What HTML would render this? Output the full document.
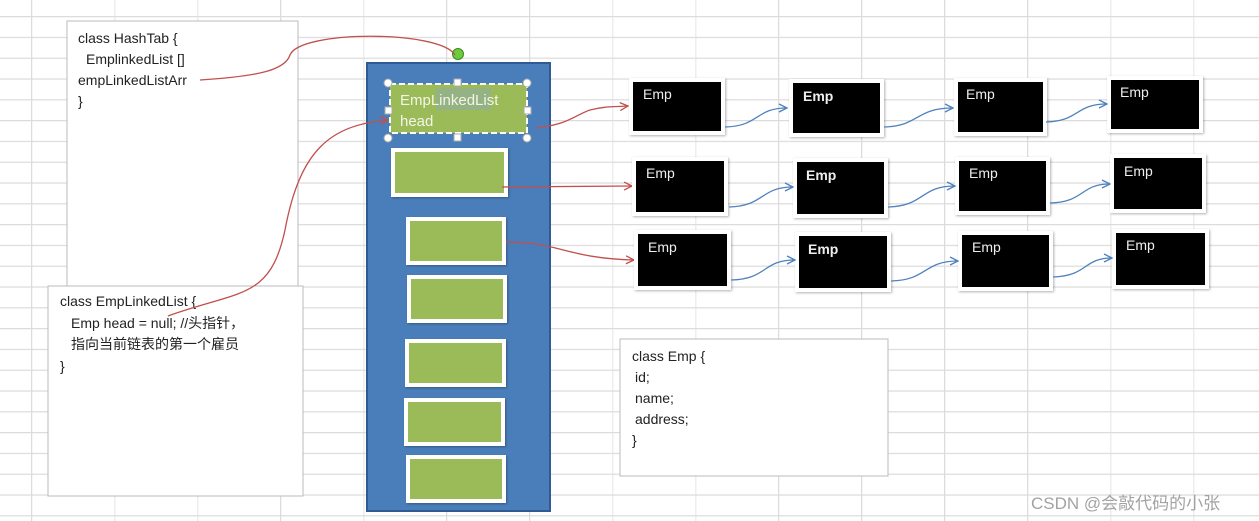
<!DOCTYPE html>
<html><head><meta charset="utf-8"><style>
html,body{margin:0;padding:0;background:#fff;}
svg{display:block;font-family:"Liberation Sans","Noto Sans CJK SC",sans-serif;}
</style></head><body>
<svg width="1259" height="521" viewBox="0 0 1259 521" xmlns="http://www.w3.org/2000/svg">
<defs>
<pattern id="g" x="31" y="16" width="83" height="20.8" patternUnits="userSpaceOnUse">
<rect width="83" height="20.8" fill="#fff"/>
<line x1="0.5" y1="0" x2="0.5" y2="20.8" stroke="#dcdcdc" stroke-width="1.5"/>
<line x1="0" y1="0.5" x2="83" y2="0.5" stroke="#dcdcdc" stroke-width="1.5"/>
</pattern>
<marker id="ar" markerWidth="10" markerHeight="10" refX="9" refY="5" orient="auto" markerUnits="userSpaceOnUse"><path d="M1,1 L9,5 L1,9" fill="none" stroke="#c0504d" stroke-width="1.3"/></marker>
<marker id="ab" markerWidth="10" markerHeight="10" refX="9" refY="5" orient="auto" markerUnits="userSpaceOnUse"><path d="M1,1 L9,5 L1,9" fill="none" stroke="#4f81bd" stroke-width="1.3"/></marker>
<filter id="sh"><feDropShadow dx="1" dy="1" stdDeviation="1.2" flood-color="#000" flood-opacity="0.3"/></filter>
</defs>
<rect width="1259" height="521" fill="url(#g)"/>

<!-- HashTab box -->
<rect x="67" y="21" width="231" height="270" fill="#fff" stroke="#bbb"/>
<g font-size="14" fill="#222">
<text x="78" y="43">class HashTab  {</text>
<text x="86" y="64">Emplinked​List []</text>
<text x="78" y="85">empLinkedListArr</text>
<text x="78" y="106">}</text>
</g>

<!-- EmpLinkedList box -->
<rect x="48" y="286" width="255" height="210" fill="#fff" stroke="#bbb"/>
<g font-size="14" fill="#222">
<text x="60" y="306">class  EmpLinkedList {</text>
<text x="71" y="328">Emp head = null; //头指针，</text>
<text x="71" y="349">指向当前链表的第一个雇员</text>
<text x="60" y="371">}</text>
</g>

<!-- Emp class box -->
<rect x="620" y="339" width="268" height="137" fill="#fff" stroke="#bbb"/>
<g font-size="14" fill="#222">
<text x="632" y="361">class Emp {</text>
<text x="635" y="382">id;</text>
<text x="635" y="403">name;</text>
<text x="635" y="424">address;</text>
<text x="632" y="445">}</text>
</g>

<!-- blue column -->
<rect x="367" y="63" width="183" height="448" fill="#4a7ebb" stroke="#2f5b93" stroke-width="2"/>
<!-- green boxes -->
<g fill="#9bbb59" stroke="#fff" stroke-width="4" filter="url(#sh)">
<rect x="393" y="150" width="113" height="45"/>
<rect x="408" y="219" width="96" height="44"/>
<rect x="409" y="277" width="96" height="44"/>
<rect x="407" y="341" width="97" height="44"/>
<rect x="406" y="400" width="97" height="44"/>
<rect x="408" y="457" width="96" height="44"/>
</g>
<!-- selected -->
<rect x="390" y="84" width="137" height="49" fill="#9bbb59" stroke="#fff" stroke-width="2" stroke-dasharray="6,3"/>
<rect x="436" y="88" width="55" height="22" fill="#8faab0" opacity="0.5"/>
<text x="400" y="105" font-size="15" fill="#f4f4e8">EmpLinkedList</text>
<text x="400" y="126" font-size="15" fill="#f4f4e8">head</text>
<g fill="#fff" stroke="#aaa">
<circle cx="388" cy="83" r="4"/><circle cx="527" cy="83" r="4"/><circle cx="388" cy="138" r="4"/><circle cx="527" cy="138" r="4"/>
<rect x="454" y="79" width="7" height="7"/><rect x="454" y="134" width="7" height="7"/><rect x="385" y="107" width="7" height="7"/><rect x="524" y="107" width="7" height="7"/>
</g>
<circle cx="458" cy="54" r="5.5" fill="#6ccb3c" stroke="#3a8a20"/>

<!-- red connectors -->
<g fill="none" stroke="#c0504d" stroke-width="1.3">
<path d="M200,80 C260,76 285,70 290,55 C300,30 440,30 455,55"/>
<path d="M168,316 C240,290 270,300 285,230 C300,150 330,125 388,120" marker-end="url(#ar)"/>
<path d="M536,128 C570,124 575,115 590,110 C605,106 615,107 628,106" marker-end="url(#ar)"/>
<path d="M502,187 L632,186" marker-end="url(#ar)"/>
<path d="M506,242 C560,242 565,258 634,260" marker-end="url(#ar)"/>
</g>

<!-- Emp boxes -->
<g fill="#000" stroke="#fff" stroke-width="4" filter="url(#sh)">
<rect x="631" y="80" width="92" height="53"/>
<rect x="791" y="81" width="91" height="54"/>
<rect x="956" y="80" width="89" height="54"/>
<rect x="1109" y="78" width="92" height="53"/>
<rect x="634" y="159" width="92" height="55"/>
<rect x="795" y="160" width="91" height="56"/>
<rect x="957" y="159" width="91" height="54"/>
<rect x="1112" y="156" width="92" height="55"/>
<rect x="636" y="232" width="93" height="56"/>
<rect x="797" y="234" width="92" height="56"/>
<rect x="960" y="233" width="91" height="56"/>
<rect x="1114" y="231" width="93" height="56"/>
</g>
<g font-size="14" fill="#eee">
<text x="643" y="99">Emp</text><text x="803" y="101" font-weight="bold">Emp</text><text x="966" y="99">Emp</text><text x="1120" y="97">Emp</text>
<text x="646" y="178">Emp</text><text x="806" y="180" font-weight="bold">Emp</text><text x="969" y="178">Emp</text><text x="1124" y="176">Emp</text>
<text x="648" y="252">Emp</text><text x="808" y="254" font-weight="bold">Emp</text><text x="972" y="252">Emp</text><text x="1126" y="250">Emp</text>
</g>

<!-- blue connectors -->
<g fill="none" stroke="#4f81bd" stroke-width="1.3">
<path d="M725,127 C760,126 755,108 787,108" marker-end="url(#ab)"/>
<path d="M884,127 C920,126 915,108 953,108" marker-end="url(#ab)"/>
<path d="M1046,122 C1080,121 1075,104 1107,104" marker-end="url(#ab)"/>
<path d="M729,207 C765,206 760,187 793,187" marker-end="url(#ab)"/>
<path d="M888,207 C925,206 920,186 955,186" marker-end="url(#ab)"/>
<path d="M1050,203 C1085,202 1080,184 1110,184" marker-end="url(#ab)"/>
<path d="M731,280 C768,279 762,260 795,260" marker-end="url(#ab)"/>
<path d="M891,281 C928,280 923,261 958,261" marker-end="url(#ab)"/>
<path d="M1053,277 C1088,276 1083,258 1112,258" marker-end="url(#ab)"/>
</g>

<text x="1031" y="509" font-size="17" fill="#999" opacity="0.9">CSDN @会敲代码的小张</text>
</svg>
</body></html>
